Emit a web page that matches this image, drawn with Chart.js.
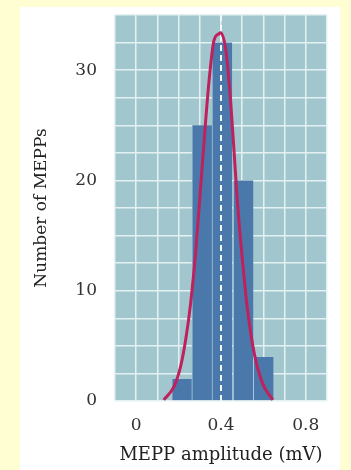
<!DOCTYPE html>
<html>
<head>
<meta charset="utf-8">
<script src="https://cdn.jsdelivr.net/npm/chart.js"></script>
<style>
    html, body { margin: 0; padding: 0; }
    body { width: 351px; height: 470px; background: #fffdd2; position: relative; overflow: hidden; }
    #panel { position: absolute; left: 20px; top: 7px; width: 320px; height: 463px; background: #ffffff; }
    #chartWrap { position: absolute; left: 0; top: 0; width: 351px; height: 470px; }
</style>
</head>
<body>
<div id="panel"></div>
<div id="chartWrap"><canvas id="mepChart" width="351" height="470"></canvas></div>
<script>
// histogram bins (mV) and counts
var binCenters = [0.215, 0.31, 0.405, 0.505, 0.6];
var binCounts = [2, 25, 32.5, 20, 4];

// fitted curve, points
var curveX = [0.13, 0.178, 0.209, 0.233, 0.257, 0.28, 0.304, 0.328, 0.344, 0.367, 0.391, 0.398, 0.423, 0.446, 0.462, 0.478, 0.501, 0.525, 0.557, 0.596, 0.644];
var curveY = [0.1, 1.3, 3.1, 5.5, 8.9, 13.4, 19.4, 25.5, 29.1, 32.7, 33.3, 33.4, 31.8, 27.0, 22.5, 17.9, 12.8, 8.3, 4.3, 1.6, 0.1];

// mean amplitude (dashed line)
var meanX = [0.4, 0.4];
var meanY = [0, 35];

var xTickLabels = ['0', '0.4', '0.8'];
var yTickLabels = ['0', '10', '20', '30'];

function toPoints(xs, ys) {
    var pts = [];
    for (var i = 0; i < xs.length; i++) {
        pts.push({ x: xs[i], y: ys[i] });
    }
    return pts;
}

var plotBg = {
    id: 'plotBg',
    beforeDraw: function (chart) {
        var a = chart.chartArea;
        var ctx = chart.ctx;
        ctx.save();
        ctx.fillStyle = '#a1c6cd';
        ctx.fillRect(a.left, a.top, a.right - a.left, a.bottom - a.top);
        ctx.restore();
    }
};

var serif = "'DejaVu Serif', serif";

var ctx = document.getElementById('mepChart').getContext('2d');
var mepChart = new Chart(ctx, {
    type: 'bar',
    data: {
        datasets: [
            {
                type: 'line',
                data: toPoints(curveX, curveY),
                borderColor: '#c0205c',
                borderWidth: 3,
                pointRadius: 0,
                cubicInterpolationMode: 'monotone',
                fill: false,
                order: 0
            },
            {
                type: 'line',
                data: toPoints(meanX, meanY),
                borderColor: '#f2f7f8',
                borderWidth: 2,
                borderDash: [6, 4],
                pointRadius: 0,
                fill: false,
                order: 1
            },
            {
                type: 'bar',
                data: toPoints(binCenters, binCounts),
                backgroundColor: '#4a78aa',
                borderColor: '#a9c8dc',
                borderWidth: { left: 1, right: 0, top: 0, bottom: 0 },
                borderSkipped: false,
                categoryPercentage: 1,
                barPercentage: 1,
                order: 2
            }
        ]
    },
    options: {
        responsive: false,
        animation: false,
        layout: { padding: { top: 15, right: 24, left: 0, bottom: 0 } },
        plugins: {
            legend: { display: false },
            tooltip: { enabled: false }
        },
        scales: {
            x: {
                type: 'linear',
                min: -0.1,
                max: 0.9,
                offset: false,
                afterFit: function (scale) {
                    scale.height = 69;
                    scale.paddingLeft = 0;
                    scale.paddingRight = 0;
                },
                grid: { color: '#e4f1f3', lineWidth: 1.5, drawTicks: false, offset: false },
                border: { display: false },
                ticks: {
                    stepSize: 0.1,
                    autoSkip: false,
                    maxRotation: 0,
                    padding: 14,
                    color: '#333333',
                    font: { family: serif, size: 17 },
                    callback: function (v) {
                        var k = Math.round(v * 10);
                        if (k % 4 === 0 && k >= 0) return xTickLabels[k / 4];
                        return '';
                    }
                },
                title: {
                    display: true,
                    text: 'MEPP amplitude (mV)',
                    color: '#222222',
                    font: { family: serif, size: 18 },
                    padding: { top: 0, bottom: 4 }
                }
            },
            y: {
                min: 0,
                max: 35,
                afterFit: function (scale) {
                    scale.width = 115;
                    scale.paddingTop = 0;
                    scale.paddingBottom = 0;
                },
                grid: { color: '#e4f1f3', lineWidth: 1.5, drawTicks: false },
                border: { display: false },
                ticks: {
                    stepSize: 2.5,
                    autoSkip: false,
                    padding: 18,
                    color: '#333333',
                    font: { family: serif, size: 17 },
                    callback: function (v) {
                        if (v % 10 === 0) return yTickLabels[v / 10];
                        return '';
                    }
                },
                title: {
                    display: true,
                    text: 'Number of MEPPs',
                    color: '#222222',
                    font: { family: serif, size: 17 },
                    padding: { top: 31, bottom: 0 }
                }
            }
        }
    },
    plugins: [plotBg]
});
</script>
</body>
</html>
